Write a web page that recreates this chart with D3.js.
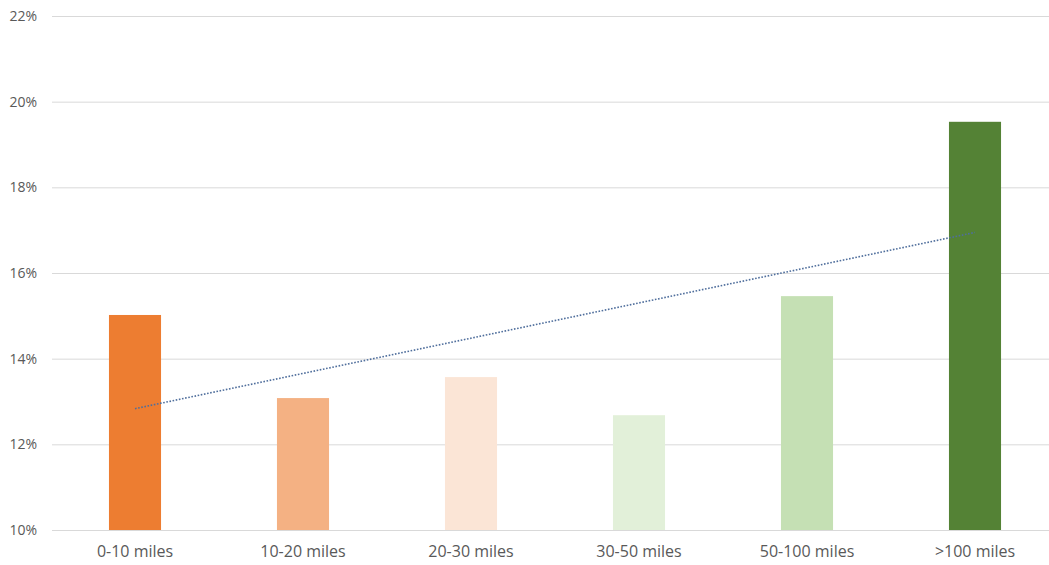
<!DOCTYPE html>
<html>
<head>
<meta charset="utf-8">
<script src="https://cdn.jsdelivr.net/npm/d3@7"></script>
<style>
  html, body { margin: 0; padding: 0; background: #fff; }
  svg { display: block; }
  text { font-family: "Open Sans", "Liberation Sans", sans-serif; fill: #595959; }
</style>
</head>
<body>
<svg id="chart" width="1049" height="565"></svg>
<script>
// Share by distance band (%)
const categories = ["0-10 miles", "10-20 miles", "20-30 miles", "30-50 miles", "50-100 miles", ">100 miles"];
const values = [15.02, 13.08, 13.57, 12.68, 15.46, 19.53];
const barColors = ["#ED7D31", "#F4B183", "#FBE5D6", "#E2F0D9", "#C5E0B4", "#548235"];
const yTicks = [10, 12, 14, 16, 18, 20, 22];

const svg = d3.select("#chart");

const x = d3.scaleBand()
  .domain(categories)
  .range([51, 1059])
  .paddingInner(0.69)
  .paddingOuter(0.345);

const y = d3.scaleLinear()
  .domain([10, 22])
  .range([530, 16]);

// Horizontal gridlines + percent labels
const yAxis = d3.axisLeft(y)
  .tickValues(yTicks)
  .tickFormat(d => d + "%")
  .tickSize(-(1049 - 52))
  .tickPadding(15);

const gy = svg.append("g")
  .attr("transform", "translate(52,0)")
  .call(yAxis);
gy.select(".domain").remove();
gy.selectAll(".tick line").attr("stroke", "#d9d9d9").attr("stroke-width", 1);
gy.selectAll(".tick text")
  .style("font-size", "14px")
  .style("fill", "#595959")
  .style("font-family", "'Open Sans', 'Liberation Sans', sans-serif");

// Bars
svg.append("g").selectAll("rect")
  .data(values)
  .join("rect")
  .attr("x", (d, i) => x(categories[i]))
  .attr("y", d => y(d))
  .attr("width", x.bandwidth())
  .attr("height", d => y(10) - y(d))
  .attr("fill", (d, i) => barColors[i]);

// Category labels
const xAxis = d3.axisBottom(x).tickSize(0).tickPadding(16);
const gx = svg.append("g")
  .attr("transform", "translate(0,530)")
  .call(xAxis);
gx.select(".domain").remove();
gx.selectAll(".tick text")
  .style("font-size", "16px")
  .style("fill", "#595959")
  .style("font-family", "'Open Sans', 'Liberation Sans', sans-serif");

// Linear trendline (least squares over category index)
const n = values.length;
const xs = d3.range(1, n + 1);
const mx = d3.mean(xs), my = d3.mean(values);
const slope = d3.sum(xs, (xi, i) => (xi - mx) * (values[i] - my)) / d3.sum(xs, xi => (xi - mx) ** 2);
const intercept = my - slope * mx;
const trend = xs.map(xi => ({ c: categories[xi - 1], v: intercept + slope * xi }));

svg.append("path")
  .datum(trend)
  .attr("fill", "none")
  .attr("stroke", "#4F6E9C")
  .attr("stroke-width", 1.6)
  .attr("stroke-dasharray", "1.6,1.6")
  .attr("d", d3.line()
    .x(d => x(d.c) + x.bandwidth() / 2)
    .y(d => y(d.v)));
</script>
</body>
</html>
